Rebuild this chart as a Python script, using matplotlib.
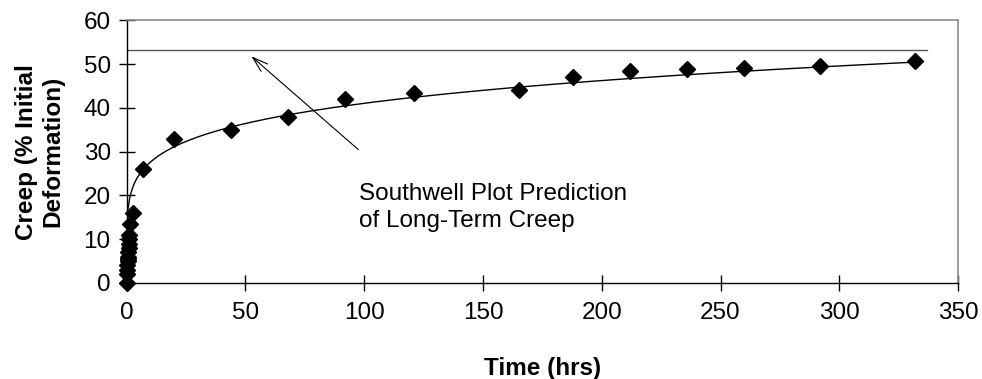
import numpy as np
import matplotlib
matplotlib.use("Agg")
import matplotlib.pyplot as plt

plt.rcParams['font.family'] = ['Liberation Sans', 'DejaVu Sans']

# measured creep, hrs vs % of initial deformation
time_hrs = [0, 0.1, 0.2, 0.3, 0.4, 0.5, 0.6, 0.7, 0.8, 0.9, 1.0, 1.1, 1.5, 2.5,
            7, 20, 44, 68, 92, 121, 165, 188, 212, 236, 260, 292, 332]
creep = [0, 2, 3, 4, 5, 5.5, 6, 7, 8, 9, 10, 11, 13.5, 16,
         26, 33, 35, 38, 42, 43.5, 44, 47, 48.5, 49, 49.2, 49.6, 50.8]

# power trendline y = a * t^b (as drawn in the source)
trend_a = 18.6
trend_b = 0.172
trend_start = 0.6
trend_end = 332

# Southwell plot prediction of long-term creep
southwell_level = 53.2
southwell_end = 337

fs = 17.5

fig = plt.figure(figsize=(9.82, 3.79), dpi=100)
ax = fig.add_axes([0.129, 0.2533, 0.8466, 0.6927])

t = np.linspace(trend_start, trend_end, 600)
ax.plot(t, trend_a * t ** trend_b, color='black', lw=1.0, zorder=2)
ax.plot([0, southwell_end], [southwell_level, southwell_level], color='#555555', lw=1.0, zorder=2)
ax.plot(time_hrs, creep, ls='none', marker='D', markersize=8.5, color='black', zorder=3, clip_on=False)

ax.set_xlim(0, 350)
ax.set_ylim(0, 60)
ax.set_xticks(np.arange(0, 351, 50))
ax.set_yticks(np.arange(0, 61, 10))
ax.tick_params(direction='inout', length=11, width=1, labelsize=fs, color='black')
ax.tick_params(axis='x', pad=8)
ax.tick_params(axis='y', pad=6)

for s in ['top', 'right']:
    ax.spines[s].set_color('#8c8c8c')
    ax.spines[s].set_linewidth(1.2)
for s in ['left', 'bottom']:
    ax.spines[s].set_color('black')
    ax.spines[s].set_linewidth(1.0)

ax.set_xlabel('Time (hrs)', fontsize=fs, fontweight='bold', labelpad=24)
ax.set_ylabel('Creep (% Initial\nDeformation)', fontsize=fs, fontweight='bold', labelpad=14,
              linespacing=1.15)

ax.text(98, 17.2, 'Southwell Plot Prediction\nof Long-Term Creep',
        fontsize=fs, ha='left', va='center', linespacing=1.3)
ax.annotate('', xy=(52.5, 51.8), xytext=(97.5, 30.5),
            arrowprops=dict(arrowstyle='->,head_length=1.1,head_width=0.35', color='black', lw=0.8,
                            shrinkA=0, shrinkB=0))

fig.savefig('out.png', dpi=100)
